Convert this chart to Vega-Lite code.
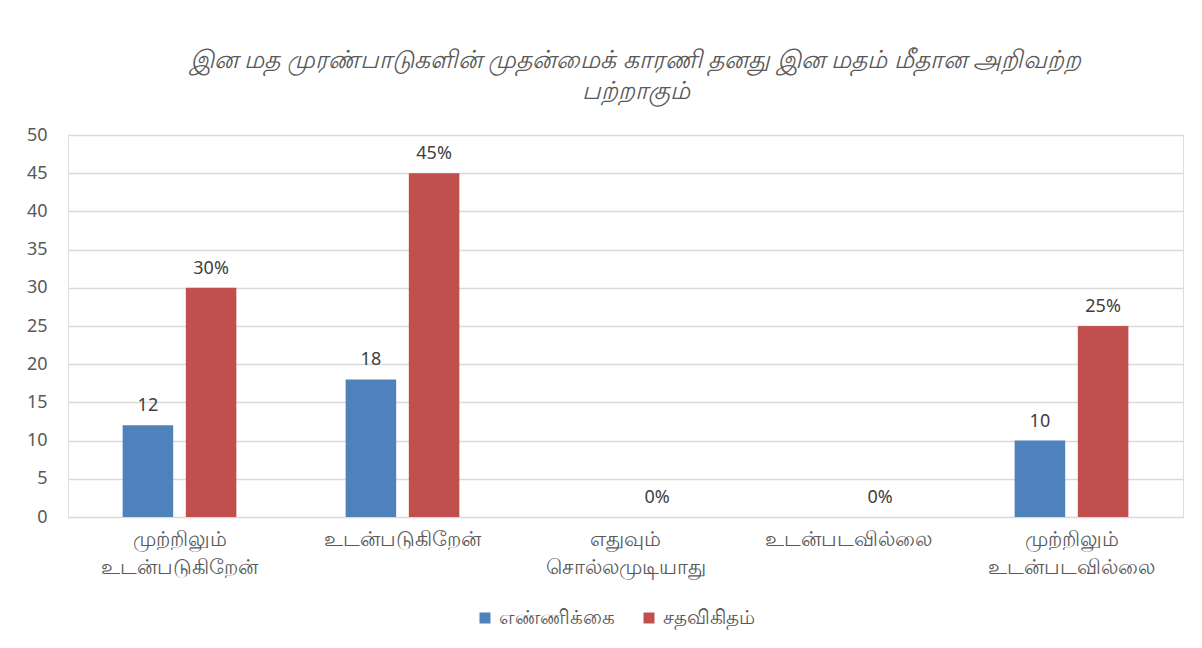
{
  "$schema": "https://vega.github.io/schema/vega-lite/v6.json",
  "autosize": {"type": "none"},
  "width": 1115,
  "height": 382,
  "padding": {"left": 68, "top": 135, "right": 19, "bottom": 131},
  "background": "white",
  "title": {
    "text": ["இன மத முரண்பாடுகளின் முதன்மைக் காரணி தனது இன மதம் மீதான அறிவற்ற", "பற்றாகும்"],
    "fontSize": 25,
    "fontStyle": "italic",
    "fontWeight": "normal",
    "color": "#595959",
    "font": "Noto Sans",
    "anchor": "middle",
    "offset": 22,
    "lineHeight": 31,
    "dx": 10
  },
  "data": {
    "values": [
      {"category": "முற்றிலும் உடன்படுகிறேன்", "series": "எண்ணிக்கை", "value": 12, "label": "12"},
      {"category": "முற்றிலும் உடன்படுகிறேன்", "series": "சதவிகிதம்", "value": 30, "label": "30%"},
      {"category": "உடன்படுகிறேன்", "series": "எண்ணிக்கை", "value": 18, "label": "18"},
      {"category": "உடன்படுகிறேன்", "series": "சதவிகிதம்", "value": 45, "label": "45%"},
      {"category": "எதுவும் சொல்லமுடியாது", "series": "எண்ணிக்கை", "value": 0, "label": ""},
      {"category": "எதுவும் சொல்லமுடியாது", "series": "சதவிகிதம்", "value": 0, "label": "0%"},
      {"category": "உடன்படவில்லை", "series": "எண்ணிக்கை", "value": 0, "label": ""},
      {"category": "உடன்படவில்லை", "series": "சதவிகிதம்", "value": 0, "label": "0%"},
      {"category": "முற்றிலும் உடன்படவில்லை", "series": "எண்ணிக்கை", "value": 10, "label": "10"},
      {"category": "முற்றிலும் உடன்படவில்லை", "series": "சதவிகிதம்", "value": 25, "label": "25%"}
    ]
  },
  "encoding": {
    "x": {
      "field": "category",
      "type": "nominal",
      "sort": null,
      "scale": {"paddingInner": 0.49, "paddingOuter": 0.245},
      "axis": {
        "title": null,
        "labelAngle": 0,
        "labelExpr": "split(datum.label, ' ')",
        "labelFontSize": 21,
        "labelColor": "#595959",
        "labelFont": "Noto Sans",
        "labelPadding": 11,
        "labelLineHeight": 28,
        "labelBaseline": "top",
        "domain": true,
        "domainColor": "#D9D9D9",
        "ticks": false
      }
    },
    "xOffset": {
      "field": "series",
      "type": "nominal",
      "sort": ["எண்ணிக்கை", "சதவிகிதம்"],
      "scale": {"paddingInner": 0.2}
    },
    "y": {
      "field": "value",
      "type": "quantitative",
      "scale": {"domain": [0, 50]},
      "axis": {
        "title": null,
        "values": [0, 5, 10, 15, 20, 25, 30, 35, 40, 45, 50],
        "labelFontSize": 18,
        "labelColor": "#595959",
        "labelFont": "Noto Sans",
        "labelPadding": 21,
        "domain": false,
        "ticks": false,
        "gridColor": "#D9D9D9",
        "gridWidth": 1.3
      }
    }
  },
  "layer": [
    {
      "mark": {"type": "bar"},
      "encoding": {
        "color": {
          "field": "series",
          "type": "nominal",
          "sort": ["எண்ணிக்கை", "சதவிகிதம்"],
          "scale": {"domain": ["எண்ணிக்கை", "சதவிகிதம்"], "range": ["#4F81BD", "#C0504D"]},
          "legend": {
            "title": null,
            "orient": "none",
            "legendX": 407,
            "legendY": 473,
            "direction": "horizontal",
            "symbolType": "square",
            "symbolSize": 121,
            "labelFontSize": 20,
            "labelColor": "#595959",
            "labelFont": "Noto Sans",
            "columnPadding": 24,
            "labelOffset": 4
          }
        }
      }
    },
    {
      "mark": {"type": "text", "baseline": "bottom", "dy": -10, "fontSize": 18, "color": "#404040", "font": "Noto Sans"},
      "encoding": {"text": {"field": "label"}}
    }
  ]
}
